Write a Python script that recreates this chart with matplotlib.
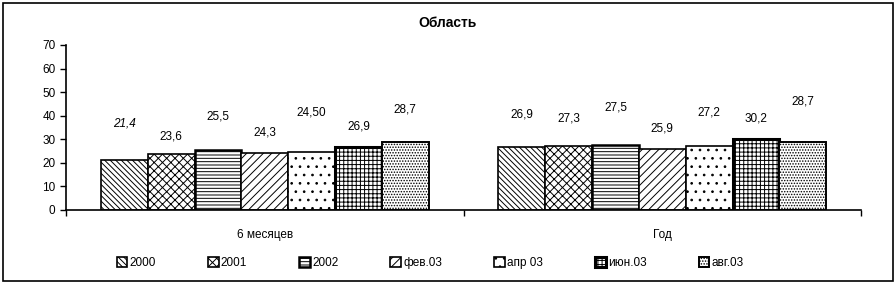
import numpy as np
import matplotlib.pyplot as plt
from matplotlib.patches import Rectangle

plt.rcParams['font.family'] = ['Liberation Sans', 'DejaVu Sans']
plt.rcParams['hatch.linewidth'] = 0.7

categories = ['6 месяцев', 'Год']
series = ['2000', '2001', '2002', 'фев.03', 'апр 03', 'июн.03', 'авг.03']
values = [
    [21.4, 26.9],
    [23.6, 27.3],
    [25.5, 27.5],
    [24.3, 25.9],
    [24.5, 27.2],
    [26.9, 30.2],
    [28.7, 28.7],
]
labels = [
    ['21,4', '26,9'],
    ['23,6', '27,3'],
    ['25,5', '27,5'],
    ['24,3', '25,9'],
    ['24,50', '27,2'],
    ['26,9', '30,2'],
    ['28,7', '28,7'],
]
# label heights as placed in the original chart
label_y = [
    [36.5, 40.5],
    [31.0, 39.0],
    [39.5, 43.5],
    [32.8, 34.5],
    [41.2, 41.2],
    [35.5, 38.7],
    [42.5, 46.0],
]
hatches = ['\\' * 6, 'xxxx', '-----', '////', '..', '++++', '......']
lws = [1.2, 1.2, 1.8, 1.2, 1.2, 2.2, 1.4]

fig = plt.figure(figsize=(8.96, 2.84), dpi=100)
ax = fig.add_axes([0.0737, 0.2606, 0.8873, 0.581])

x = np.arange(len(categories))
w = 0.825 / len(series)
for i, s in enumerate(series):
    pos = x - 0.4125 + w * (i + 0.5)
    ax.bar(pos, values[i], w, color='white', edgecolor='black',
           hatch=hatches[i], linewidth=lws[i], label=s)
    for j in range(len(categories)):
        ax.text(pos[j], label_y[i][j], labels[i][j], ha='center', va='center',
                fontsize=8.5, style='italic' if (i == 0 and j == 0) else 'normal')

ax.set_xlim(-0.5, 1.5)
ax.set_ylim(0, 70)
ax.set_yticks(range(0, 71, 10))
ax.set_xticks([-0.5, 0.5, 1.5])
ax.set_xticklabels([])
ax.set_xticks(x, minor=True)
ax.set_xticklabels(categories, minor=True, fontsize=8.5)
ax.tick_params(axis='x', which='minor', length=0, pad=14)
ax.tick_params(axis='x', which='major', length=4, direction='out', width=1)
ax.tick_params(axis='y', labelsize=8.5, length=4, width=1)
ax.spines['top'].set_visible(False)
ax.spines['right'].set_visible(False)
ax.spines['left'].set_linewidth(1.2)
ax.spines['bottom'].set_linewidth(1.2)

fig.text(0.5, 0.92, 'Область', ha='center', va='center', fontsize=10, fontweight='bold')

ax.legend(loc='center', bbox_to_anchor=(0.458, -0.32), ncol=7, frameon=False,
          fontsize=8.5, handlelength=0.9, handleheight=0.9, handletextpad=0.2,
          columnspacing=4.4)

fig.patches.append(Rectangle((0.003, 0.01), 0.994, 0.98, transform=fig.transFigure,
                             fill=False, edgecolor='black', linewidth=1.2))

fig.savefig('out.png', dpi=100)
